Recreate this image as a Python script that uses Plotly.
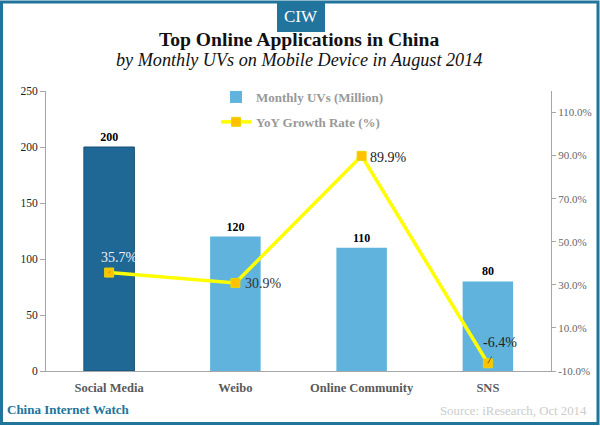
import plotly.graph_objects as go

# Data
categories = ['Social Media', 'Weibo', 'Online Community', 'SNS']
monthly_uvs = [200, 120, 110, 80]
yoy_growth = [35.7, 30.9, 89.9, -6.4]
right_ticks = [-10, 10, 30, 50, 70, 90, 110]
right_tick_labels = ['-10.0%', '10.0%', '30.0%', '50.0%', '70.0%', '90.0%', '110.0%']

W, H = 600, 426
L, R, T, B = 46, 49, 91, 55
SERIF = 'Liberation Serif'
BLUE = '#21749c'


# pixel position in the page -> paper coordinates
def px(x):
    return (x - L) / (W - L - R)


def py(y):
    return 1 - (y - T) / (H - T - B)


fig = go.Figure()

# highlighted first bar, the rest carry the legend entry
fig.add_trace(go.Bar(
    x=categories[:1], y=monthly_uvs[:1], width=0.4, showlegend=False,
    marker=dict(color='#1f6895', line=dict(color='#174f72', width=1)),
    text=monthly_uvs[:1], textposition='outside', cliponaxis=False,
    textfont=dict(family=SERIF, size=12, color='black', weight='bold'),
))
fig.add_trace(go.Bar(
    x=categories[1:], y=monthly_uvs[1:], width=0.4, name='Monthly UVs (Million)',
    legendgroup='uvs',
    marker=dict(color='#5fb3dc', line=dict(width=0)),
    text=monthly_uvs[1:], textposition='outside', cliponaxis=False,
    textfont=dict(family=SERIF, size=12, color='black', weight='bold'),
))
fig.add_trace(go.Scatter(
    x=categories, y=yoy_growth, yaxis='y2', mode='lines+markers',
    name='YoY Growth Rate (%)', legendgroup='yoy',
    line=dict(color='#ffff00', width=3.5),
    marker=dict(symbol='square', size=9, color='#ffc000', line=dict(color='#e8d800', width=1)),
))

fig.update_layout(
    width=W, height=H,
    margin=dict(l=L, r=R, t=T, b=B, autoexpand=False),
    paper_bgcolor='white', plot_bgcolor='white',
    barmode='overlay',
    font=dict(family=SERIF, color='#333333'),
    legend=dict(
        x=px(216), y=py(82), xanchor='left', yanchor='top',
        bgcolor='rgba(0,0,0,0)', tracegroupgap=5, itemwidth=30,
        font=dict(family=SERIF, size=13, color='#999999', weight='bold'),
    ),
    xaxis=dict(
        type='category', categoryorder='array', categoryarray=categories,
        automargin=False,
        showgrid=False, showline=True, linecolor='#a6a6a6', linewidth=1,
        ticks='', ticklen=0, ticklabelstandoff=5,
        tickfont=dict(family=SERIF, size=12.5, color='#595959', weight='bold'),
    ),
    yaxis=dict(
        range=[0, 250], dtick=50, showgrid=False, zeroline=False, automargin=False,
        showline=True, linecolor='#a6a6a6', linewidth=1,
        ticks='outside', ticklen=5, tickcolor='#a6a6a6',
        tickfont=dict(family=SERIF, size=11.5, color='#222222'),
    ),
    yaxis2=dict(
        overlaying='y', side='right', range=[-10, 120],
        tickvals=right_ticks, ticktext=right_tick_labels,
        showgrid=False, zeroline=False, automargin=False,
        showline=True, linecolor='#a6a6a6', linewidth=1,
        ticks='outside', ticklen=4, tickcolor='#a6a6a6',
        tickfont=dict(family=SERIF, size=11, color='#666666'),
    ),
)

# growth labels; first and last have a thin leader line
label_colors = ['#f2f2f2', '#333333', '#222222', '#222222']
label_ax = [10, 28, 27, 12]
label_ay = [-15, 1, 2, -21]
label_arrow = [True, False, False, True]
for c, v, col, ax, ay, arrow in zip(categories, yoy_growth, label_colors, label_ax, label_ay, label_arrow):
    fig.add_annotation(
        x=c, y=v, xref='x', yref='y2', text=f'{v}%', showarrow=True,
        arrowhead=0, arrowwidth=0.6, arrowcolor='#222222' if arrow else 'rgba(0,0,0,0)',
        ax=ax, ay=ay, standoff=0, startstandoff=6,
        font=dict(family=SERIF, size=14, color=col),
    )

# outer frame and CIW badge
fig.add_shape(type='rect', xref='paper', yref='paper', x0=px(1.5), x1=px(598), y0=py(2), y1=py(423.5),
              line=dict(color=BLUE, width=3), fillcolor='rgba(0,0,0,0)', layer='above')
fig.add_shape(type='rect', xref='paper', yref='paper', x0=px(277), x1=px(325), y0=py(2), y1=py(32),
              line=dict(width=0), fillcolor=BLUE, layer='above')

texts = [
    ('CIW', 301, 16, 'center', dict(size=17, color='white')),
    ('<b>Top Online Applications in China</b>', 299, 39, 'center', dict(size=19.6, color='#111111')),
    ('<i>by Monthly UVs on Mobile Device in August 2014</i>', 299, 60, 'center', dict(size=18.2, color='#111111')),
    ('<b>China Internet Watch</b>', 5, 409, 'left', dict(size=13, color=BLUE)),
    ('Source: iResearch, Oct 2014', 589, 411, 'right', dict(size=12.8, color='#cccccc')),
]
for text, x, y, anchor, font in texts:
    fig.add_annotation(text=text, x=px(x), y=py(y), xref='paper', yref='paper',
                       xanchor=anchor, yanchor='middle', showarrow=False,
                       font=dict(family=SERIF, **font))

# drop the browser's default page margin so the figure fills the window
fig.write_html("out.html", config=dict(displayModeBar=False),
               post_script="document.body.style.margin='0';")
